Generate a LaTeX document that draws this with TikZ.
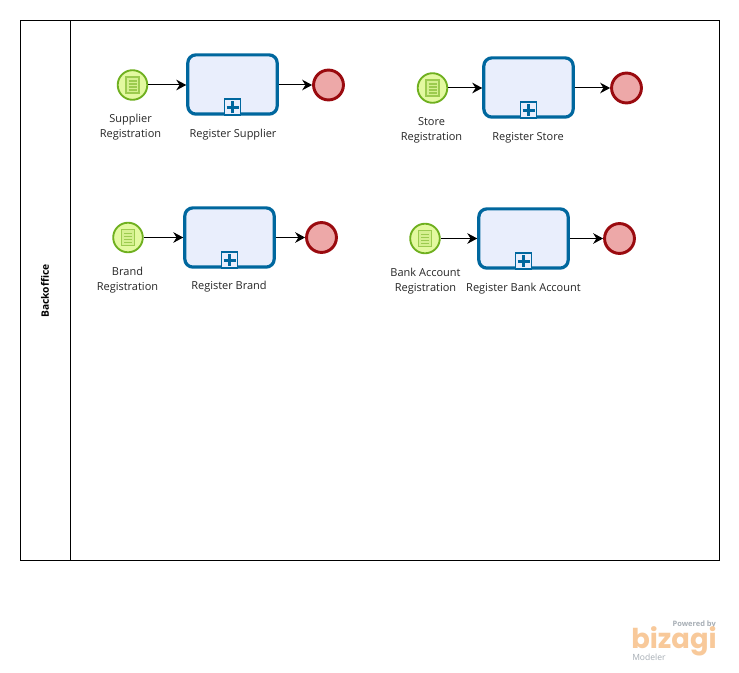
\documentclass[tikz,border=0pt]{standalone}
\usepackage{fontspec}
\setmainfont{Open Sans}
\newfontfamily\logofont{Poppins}
\usetikzlibrary{arrows.meta}
\definecolor{taskblue}{HTML}{00679E}
\definecolor{taskfill}{HTML}{E9EEFC}
\definecolor{startline}{HTML}{6FB01F}
\definecolor{startfill}{HTML}{E3F9A0}
\definecolor{docline}{HTML}{9CCB4F}
\definecolor{endline}{HTML}{9A0A0F}
\definecolor{endfill}{HTML}{EDA8A8}
\definecolor{logoorange}{HTML}{F8C99A}
\definecolor{logogray}{HTML}{A7AEB5}
\tikzset{
  x=0.75pt,y=-0.75pt,
  pool/.style={draw=black,line width=0.75pt,fill=white,minimum width=0},
  subtask/.style={draw=taskblue,fill=taskfill,line width=2.4pt,rounded corners=6pt,minimum width=67pt,minimum height=44.4pt,inner sep=0pt},
  marker/.style={draw=taskblue,fill=taskfill,line width=1.2pt,minimum width=12pt,minimum height=12pt,inner sep=0pt},
  startev/.style={circle,draw=startline,fill=startfill,line width=1.4pt,minimum size=22.2pt,inner sep=0pt},
  endev/.style={circle,draw=endline,fill=endfill,line width=2.2pt,minimum size=22.4pt,inner sep=0pt},
  lbl/.style={align=center,font=\fontsize{8.25pt}{11.2pt}\selectfont,text=black!85,inner sep=0pt},
  flow/.style={draw=black,line width=0.75pt,-{Stealth[length=7.5pt,width=8pt,inset=2.5pt]}},
  docicon/.style={draw=docline,fill=startfill!80!docline,line width=1pt},
  docrule/.style={draw=docline,line width=0.8pt},
  plusmark/.style={draw=taskblue,line width=2.1pt},
}
\newcommand{\bpmnrow}[6]{%
  % #1 id, #2 start x, #3 start y, #4 task x, #5 task y, #6 end x
  \node[startev] (s#1) at (#2,#3) {};
  \draw[docicon] ([shift={(-6.5,-8)}]s#1.center) rectangle ([shift={(6.5,8)}]s#1.center);
  \foreach \dy in {-4,-1,2,5}
    \draw[docrule] ([shift={(-4,\dy)}]s#1.center) -- ([shift={(4,\dy)}]s#1.center);
  \node[subtask] (t#1) at (#4,#5) {};
  \node[marker,anchor=south] (m#1) at ([yshift=-0.2pt]t#1.south) {};
  \draw[plusmark] ([xshift=-4.5]m#1.center) -- ([xshift=4.5]m#1.center);
  \draw[plusmark] ([yshift=-4.5]m#1.center) -- ([yshift=4.5]m#1.center);
  \node[endev] (e#1) at (#6,#3) {};
  \draw[flow] (s#1) -- (t#1.west |- s#1);
  \draw[flow] (t#1.east |- s#1) -- (e#1);
}
\begin{document}
\begin{tikzpicture}
\useasboundingbox (0,0) rectangle (739,673);
\fill[white] (0,0) rectangle (739,673);
\node[pool,minimum width=524.25pt,minimum height=405pt,inner sep=0pt] (poolbox) at (370,290.5) {};
\coordinate (divtop) at (70.5,20.5);
\coordinate (divbot) at (70.5,560.5);
\draw[line width=0.75pt] (divtop) -- (divbot);
\node[rotate=90,font=\fontsize{7.7pt}{9pt}\selectfont\bfseries,inner sep=0pt] (lane) at (45,291) {Backoffice};

\bpmnrow{a}{132.5}{85}{232.5}{84.5}{328.5}
\bpmnrow{b}{432.5}{88}{528.5}{87.5}{626.5}
\bpmnrow{c}{128}{237.5}{229.5}{237.5}{321.5}
\bpmnrow{d}{425}{238.5}{523.5}{238.5}{619.5}

\node[lbl] (la) at (130.5,127) {Supplier\\Registration};
\node[lbl] (lta) at (233,134.5) {Register Supplier};
\node[lbl] (lb) at (431.5,130) {Store\\Registration};
\node[lbl] (ltb) at (528,137.5) {Register Store};
\node[lbl] (lc) at (127.5,280) {Brand\\Registration};
\node[lbl] (ltc) at (229,287) {Register Brand};
\node[lbl] (ld) at (425.5,281) {Bank Account\\Registration};
\node[lbl] (ltd) at (523.5,288.5) {Register Bank Account};

\node[font=\fontsize{5.6pt}{6pt}\selectfont\bfseries,text=logogray,inner sep=0pt,anchor=east] (pw) at (716,625) {Powered by};
\node[font=\logofont\bfseries\fontsize{20.5pt}{20pt}\selectfont,text=logoorange,inner sep=0pt,anchor=base west] (bz) at (631,648) {bizagi};
\node[font=\fontsize{6.4pt}{7pt}\selectfont,text=logogray,inner sep=0pt,anchor=west] (md) at (632,657.5) {Modeler};
\end{tikzpicture}
\end{document}
